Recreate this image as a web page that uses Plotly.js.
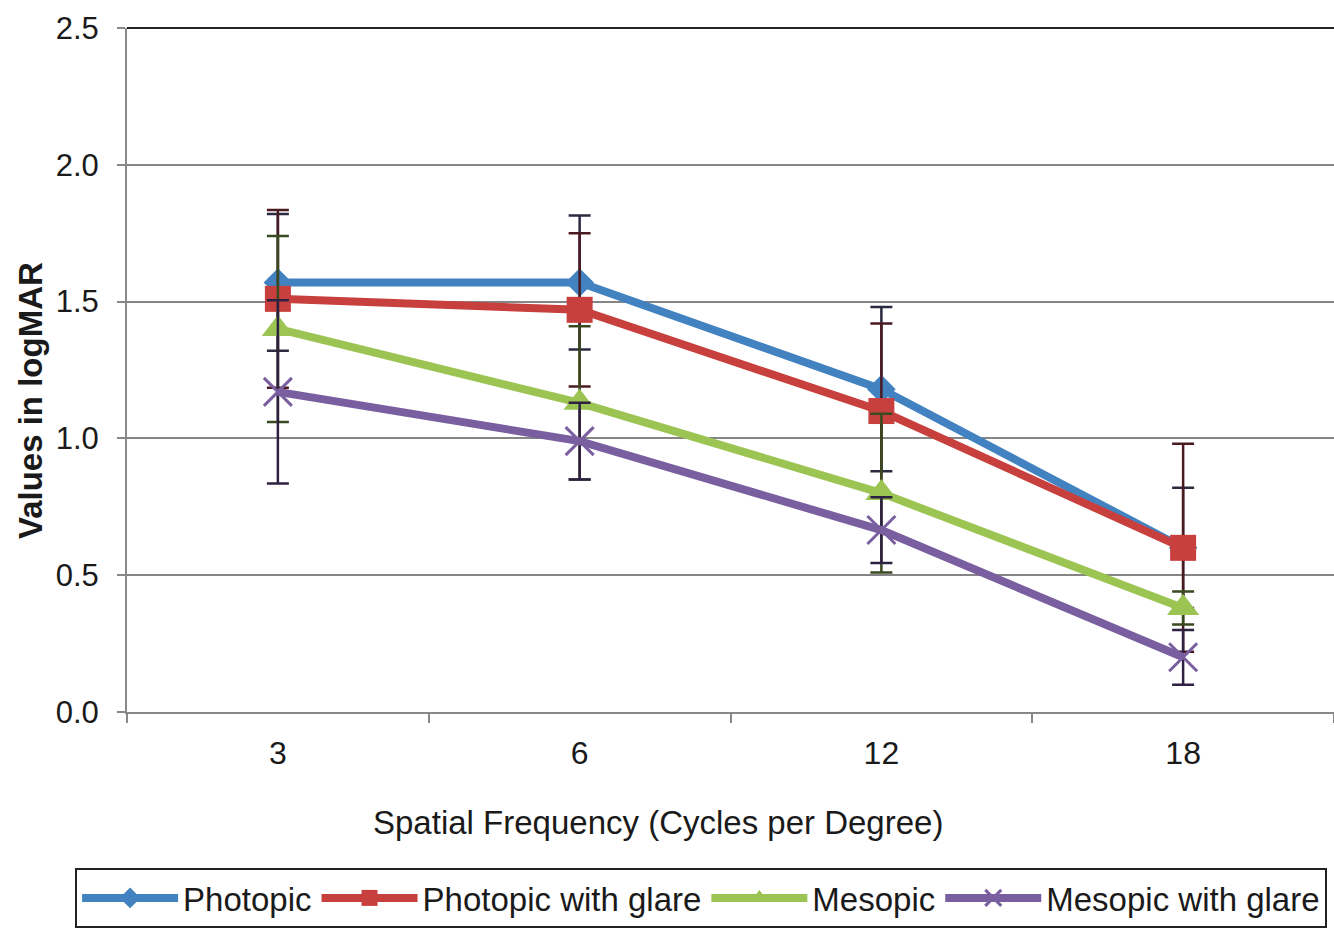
<!DOCTYPE html>
<html>
<head>
<meta charset="utf-8">
<script src="https://cdn.plot.ly/plotly-3.0.1.min.js"></script>
<style>html,body{margin:0;padding:0;background:#fff;}#chart{width:1334px;height:940px;}</style>
</head>
<body>
<div id="chart"></div>
<script>
// Categories (spatial frequency, cycles per degree)
const categories = ['3', '6', '12', '18'];

// Series values (logMAR)
const photopic          = [1.57, 1.57, 1.18, 0.60];
const photopicGlare     = [1.51, 1.47, 1.10, 0.60];
const mesopic           = [1.40, 1.13, 0.80, 0.38];
const mesopicGlare      = [1.17, 0.99, 0.665, 0.20];

// Error bar half-lengths
const photopicErr       = [0.25, 0.245, 0.30, 0.22];
const photopicGlareErr  = [0.325, 0.28, 0.32, 0.38];
const mesopicErr        = [0.34, 0.28, 0.29, 0.06];
const mesopicGlareErr   = [0.335, 0.14, 0.12, 0.10];

const seriesNames = ['Photopic', 'Photopic with glare', 'Mesopic', 'Mesopic with glare'];
const xTitle = 'Spatial Frequency (Cycles per Degree)';
const yTitle = 'Values in logMAR';

const FONT = '"Liberation Sans", Arial, sans-serif';

function mk(name, y, err, color, errColor, symbol, size) {
  return {
    type: 'scatter', mode: 'lines+markers', name: name,
    x: categories, y: y,
    line: {color: color, width: 8},
    marker: {color: color, symbol: symbol, size: size,
             line: {color: color, width: symbol === 'x-thin' ? 3 : 0}},
    error_y: {type: 'data', array: err, visible: true, color: errColor, thickness: 2.5, width: 11}
  };
}

const data = [
  mk(seriesNames[0], photopic, photopicErr, '#4282C0', '#2A2A40', 'diamond', 22),
  mk(seriesNames[1], photopicGlare, photopicGlareErr, '#C8403E', '#4A1A22', 'square', 26),
  mk(seriesNames[2], mesopic, mesopicErr, '#9BC452', '#3A4A20', 'triangle-up', 28),
  mk(seriesNames[3], mesopicGlare, mesopicGlareErr, '#7A5FA0', '#2E2040', 'x-thin', 28)
];

const layout = {
  width: 1334, height: 940,
  margin: {l: 127, r: 0, t: 28, b: 228},
  paper_bgcolor: '#ffffff', plot_bgcolor: '#ffffff',
  font: {family: FONT, color: '#1a1a1a', size: 30},
  showlegend: true,
  xaxis: {
    type: 'category', range: [-0.5, 3.5],
    tickson: 'boundaries', ticks: 'outside', ticklen: 9, tickwidth: 2, tickcolor: '#888888',
    showline: true, linecolor: '#888888', linewidth: 2,
    showgrid: false, zeroline: false,
    tickfont: {size: 32, family: FONT, color: '#1a1a1a'},
    ticklabelstandoff: 12
  },
  yaxis: {
    range: [0, 2.5], dtick: 0.5, tick0: 0, tickformat: '.1f',
    ticks: 'outside', ticklen: 8, tickwidth: 2, tickcolor: '#888888',
    showline: true, linecolor: '#888888', linewidth: 2,
    showgrid: true, gridcolor: '#858585', gridwidth: 2, zeroline: false,
    tickfont: {size: 31, family: FONT, color: '#1a1a1a'},
    ticklabelstandoff: 12
  },
  legend: {
    orientation: 'h', x: -0.043, xanchor: 'left', y: -0.228, yanchor: 'top',
    bordercolor: '#222222', borderwidth: 2, bgcolor: '#ffffff',
    font: {size: 33, family: FONT, color: '#1a1a1a'},
    itemwidth: 96, tracegroupgap: 0
  },
  annotations: [
    {text: xTitle, xref: 'paper', yref: 'paper', x: 0.44, y: -0.161,
     xanchor: 'center', yanchor: 'middle', showarrow: false,
     font: {size: 33, family: FONT, color: '#1a1a1a'}},
    {text: '<b>' + yTitle + '</b>', xref: 'paper', yref: 'paper', x: -0.0804, y: 0.456,
     xanchor: 'center', yanchor: 'middle', showarrow: false, textangle: -90,
     font: {size: 33, family: FONT, color: '#1a1a1a'}}
  ],
  shapes: [
    {type: 'line', xref: 'paper', yref: 'paper', x0: 0, x1: 1, y0: 1, y1: 1,
     line: {color: '#222222', width: 2}}
  ]
};

Plotly.newPlot('chart', data, layout, {displayModeBar: false, staticPlot: true});
</script>
</body>
</html>
